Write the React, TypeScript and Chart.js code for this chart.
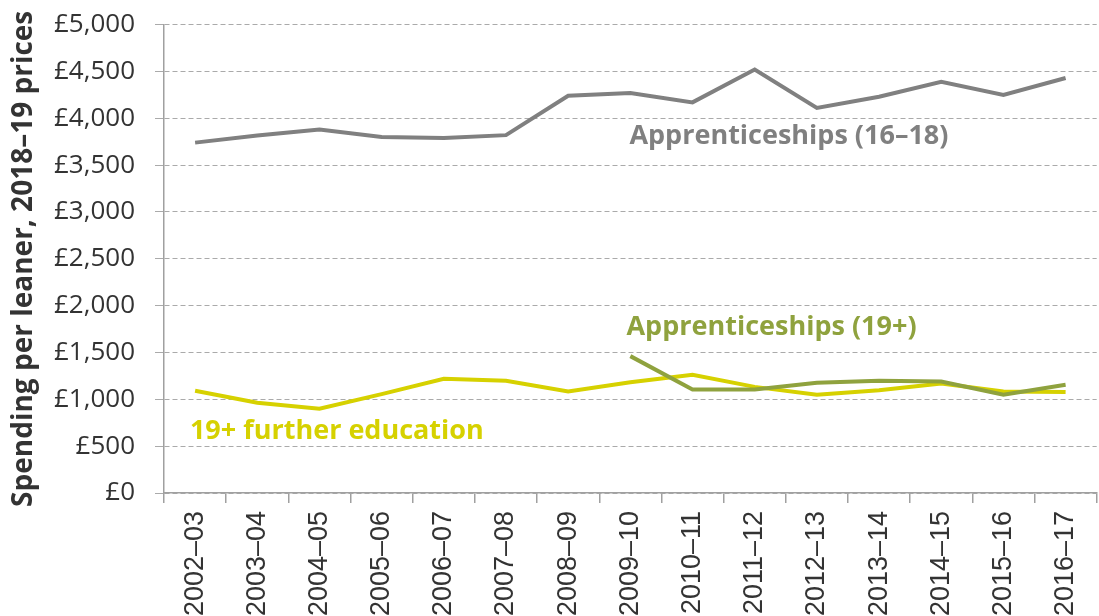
import { useEffect, useRef } from 'react';
import { Chart, registerables } from 'chart.js';

Chart.register(...registerables);

const categories = [
  '2002–03', '2003–04', '2004–05', '2005–06', '2006–07', '2007–08', '2008–09',
  '2009–10', '2010–11', '2011–12', '2012–13', '2013–14', '2014–15', '2015–16', '2016–17',
];

const apprenticeships1618 = [3740, 3815, 3880, 3800, 3790, 3820, 4240, 4270, 4170, 4520, 4110, 4230, 4390, 4250, 4430];
const apprenticeships19 = [null, null, null, null, null, null, null, 1461, 1106, 1106, 1176, 1197, 1191, 1048, 1155];
const furtherEducation19 = [1091, 963, 899, 1055, 1219, 1197, 1084, 1183, 1261, 1133, 1048, 1098, 1169, 1084, 1077];

const yMin = 0;
const yMax = 5000;
const yStep = 500;

const GRAY = '#808080';
const OLIVE = '#8fa23e';
const YELLOW = '#d6d100';

const annotations = [
  { text: 'Apprenticeships (16–18)', xIndex: 9.55, yValue: 3806, color: GRAY },
  { text: 'Apprenticeships (19+)', xIndex: 9.27, yValue: 1770, color: OLIVE },
  { text: '19+ further education', xIndex: 2.28, yValue: 661, color: YELLOW },
];

const annotationPlugin = {
  id: 'seriesLabels',
  afterDatasetsDraw(chart: any) {
    const { ctx, scales } = chart;
    ctx.save();
    ctx.font = 'bold 27px "Open Sans"';
    ctx.textAlign = 'center';
    ctx.textBaseline = 'middle';
    for (const a of annotations) {
      ctx.fillStyle = a.color;
      ctx.fillText(a.text, scales.x.getPixelForValue(a.xIndex), scales.y.getPixelForValue(a.yValue));
    }
    ctx.restore();
  },
};

export default function App() {
  const ref = useRef<HTMLCanvasElement>(null);
  useEffect(() => {
    const chart = new Chart(ref.current as HTMLCanvasElement, {
      type: 'line',
      data: {
        labels: categories,
        datasets: [
          { label: 'Apprenticeships (19+)', data: apprenticeships19 as any, borderColor: OLIVE, borderWidth: 4, pointRadius: 0, tension: 0, spanGaps: false },
          { label: '19+ further education', data: furtherEducation19, borderColor: YELLOW, borderWidth: 4, pointRadius: 0, tension: 0 },
          { label: 'Apprenticeships (16–18)', data: apprenticeships1618, borderColor: GRAY, borderWidth: 4, pointRadius: 0, tension: 0 },
        ],
      },
      options: {
        animation: false,
        responsive: true,
        maintainAspectRatio: false,
        layout: { padding: { top: 13, left: 0, right: 0, bottom: 0 } },
        plugins: { legend: { display: false }, tooltip: { enabled: false } },
        scales: {
          x: {
            offset: true,
            grid: { offset: true, drawOnChartArea: false, drawTicks: true, tickLength: 10, color: '#a0a0a0', lineWidth: 1.5 },
            border: { display: true, color: '#a0a0a0', width: 1.5 },
            ticks: {
              autoSkip: false,
              minRotation: 90,
              maxRotation: 90,
              padding: 8,
              color: '#333',
              font: { family: '"Liberation Sans Narrow", "Liberation Sans", sans-serif', size: 27 },
            },
            afterFit: (s: any) => { s.height = 123; },
          },
          y: {
            min: yMin,
            max: yMax,
            ticks: {
              stepSize: yStep,
              padding: 20,
              color: '#333',
              font: { family: '"Open Sans"', size: 26 },
              callback: (v: any) => '£' + Number(v).toLocaleString('en-GB'),
            },
            grid: { color: '#aaaaaa', lineWidth: 1, tickLength: 9 },
            border: { display: true, color: '#a0a0a0', width: 1.5, dash: [5, 3] },
            title: {
              display: true,
              text: 'Spending per leaner, 2018–19 prices',
              color: '#333',
              font: { family: '"Open Sans"', weight: 'bold', size: 28 },
              padding: { top: 7, bottom: 0 },
            },
            afterFit: (s: any) => { s.width = 164; },
          },
        },
      },
      plugins: [annotationPlugin],
    });
    return () => chart.destroy();
  }, []);
  return (
    <div style={{ position: 'fixed', left: 0, top: -11, width: 1106, height: 627, background: '#fff' }}>
      <canvas ref={ref} />
    </div>
  );
}
